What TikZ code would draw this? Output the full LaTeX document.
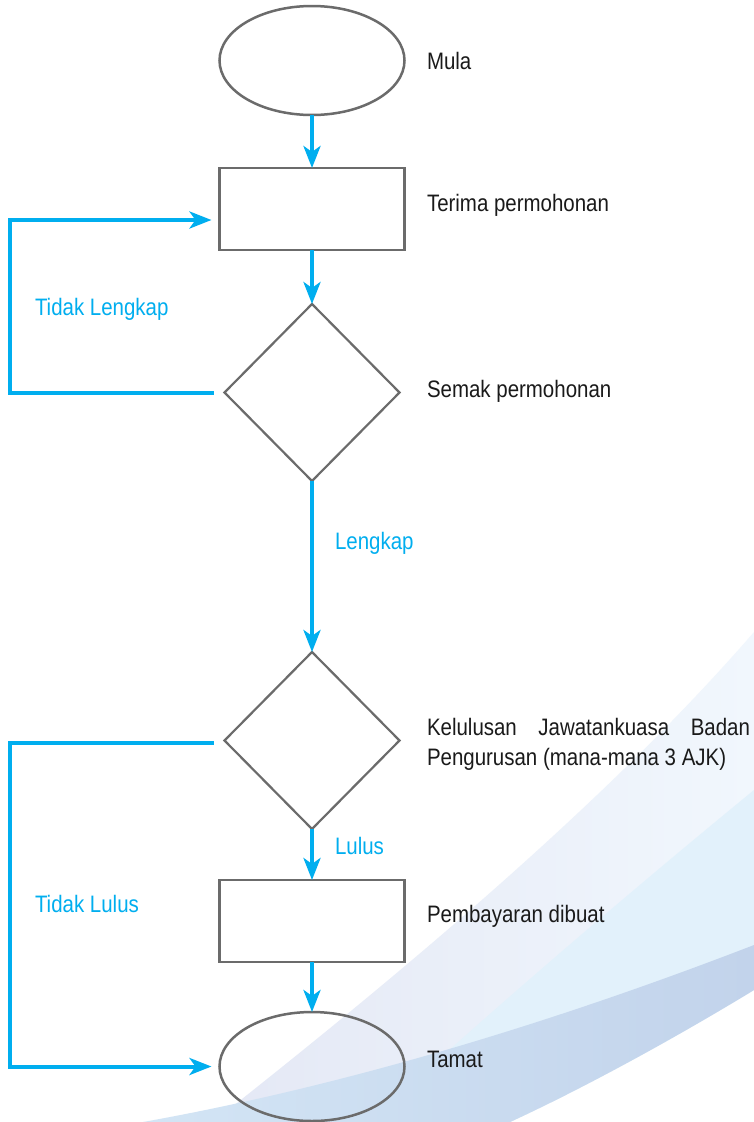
\documentclass[tikz,border=0pt]{standalone}
\usepackage{fontspec}
\setmainfont[FakeStretch=0.86]{Liberation Sans}
\usetikzlibrary{shapes.geometric,arrows.meta}
\definecolor{cyanline}{HTML}{00AEEF}
\definecolor{grayline}{HTML}{6B6B6B}
\definecolor{textblack}{HTML}{1A1A1A}
\definecolor{swA1}{HTML}{E4E8F5}
\definecolor{swA2}{HTML}{F1F7FD}
\definecolor{swS}{HTML}{E2F1FB}
\definecolor{swB1}{HTML}{D3E5F5}
\definecolor{swB2}{HTML}{C2D3EB}
\begin{document}
\begin{tikzpicture}[x=1pt,y=-1pt,
  every node/.style={inner sep=0pt, outer sep=0pt},
  term/.style={ellipse, draw=grayline, line width=2.5pt, minimum width=185pt, minimum height=109pt},
  proc/.style={rectangle, draw=grayline, line width=2.5pt, minimum width=185pt, minimum height=82pt},
  dec/.style={diamond, draw=grayline, line width=2.2pt, minimum width=175pt, minimum height=177pt},
  flow/.style={draw=cyanline, line width=4pt, -{Stealth[length=22pt,width=17pt,inset=6pt]}},
  lbl/.style={anchor=base west, font=\fontsize{23.8}{28}\selectfont, text=textblack},
  blbl/.style={lbl, text=cyanline}]
\useasboundingbox (0,0) rectangle (754,1122);
\fill[white] (0,0) rectangle (754,1122);
% background swoosh
\shade[left color=swA1, right color=swA2]
  (213,1122) .. controls (380,990) and (600,810) .. (754,632)
  -- (754,990) .. controls (680,1035) and (590,1085) .. (510,1122) -- cycle;
\fill[swS]
  (754,790) .. controls (620,900) and (480,1020) .. (370,1122)
  -- (510,1122) .. controls (590,1085) and (680,1035) .. (754,990) -- cycle;
\shade[left color=swB1, right color=swB2]
  (143,1122) .. controls (350,1085) and (560,1020) .. (754,945)
  -- (754,990) .. controls (680,1035) and (590,1085) .. (510,1122) -- cycle;
% nodes
\node[term, fill=white] (mula) at (312,60.5) {};
\node[proc] (terima) at (312,209) {};
\node[dec] (semak) at (312,392.5) {};
\node[dec] (lulus) at (312,740.5) {};
\node[proc] (bayar) at (312,921) {};
\node[term] (tamat) at (312,1066.5) {};
\coordinate (leftx) at (10,0);
\coordinate (s1) at ([xshift=-11pt]semak.west);
\coordinate (e1) at ([xshift=-8pt,yshift=-11pt]terima.west);
\coordinate (s2) at ([xshift=-11pt,yshift=-2.5pt]lulus.west);
\coordinate (e2) at ([xshift=-8pt]tamat.west);
% connectors
\draw[flow] (mula.south) -- (terima.north);
\draw[flow] (terima.south) -- (semak.north);
\draw[flow] (semak.south) -- (lulus.north);
\draw[flow] (lulus.south) -- (bayar.north);
\draw[flow] (bayar.south) -- (tamat.north);
\draw[flow] (s1) -- (s1 -| leftx) |- (e1);
\draw[flow] (s2) -- (s2 -| leftx) |- (e2);
% labels
\node[lbl] (tmula) at (427,69) {Mula};
\node[lbl] (tterima) at (427,211) {Terima permohonan};
\node[lbl] (tsemak) at (427,397) {Semak permohonan};
\node[lbl] (tkel1) at (427,735) {\makebox[323pt][s]{Kelulusan Jawatankuasa Badan}};
\node[lbl] (tkel2) at (427,765) {Pengurusan (mana-mana 3 AJK)};
\node[lbl] (tbayar) at (427,922) {Pembayaran dibuat};
\node[lbl] (ttamat) at (427,1067) {Tamat};
\node[blbl] (ltl) at (35,315) {Tidak Lengkap};
\node[blbl] (ll) at (335,549) {Lengkap};
\node[blbl] (llu) at (335,854) {Lulus};
\node[blbl] (ltlu) at (35,912) {Tidak Lulus};
\end{tikzpicture}
\end{document}
